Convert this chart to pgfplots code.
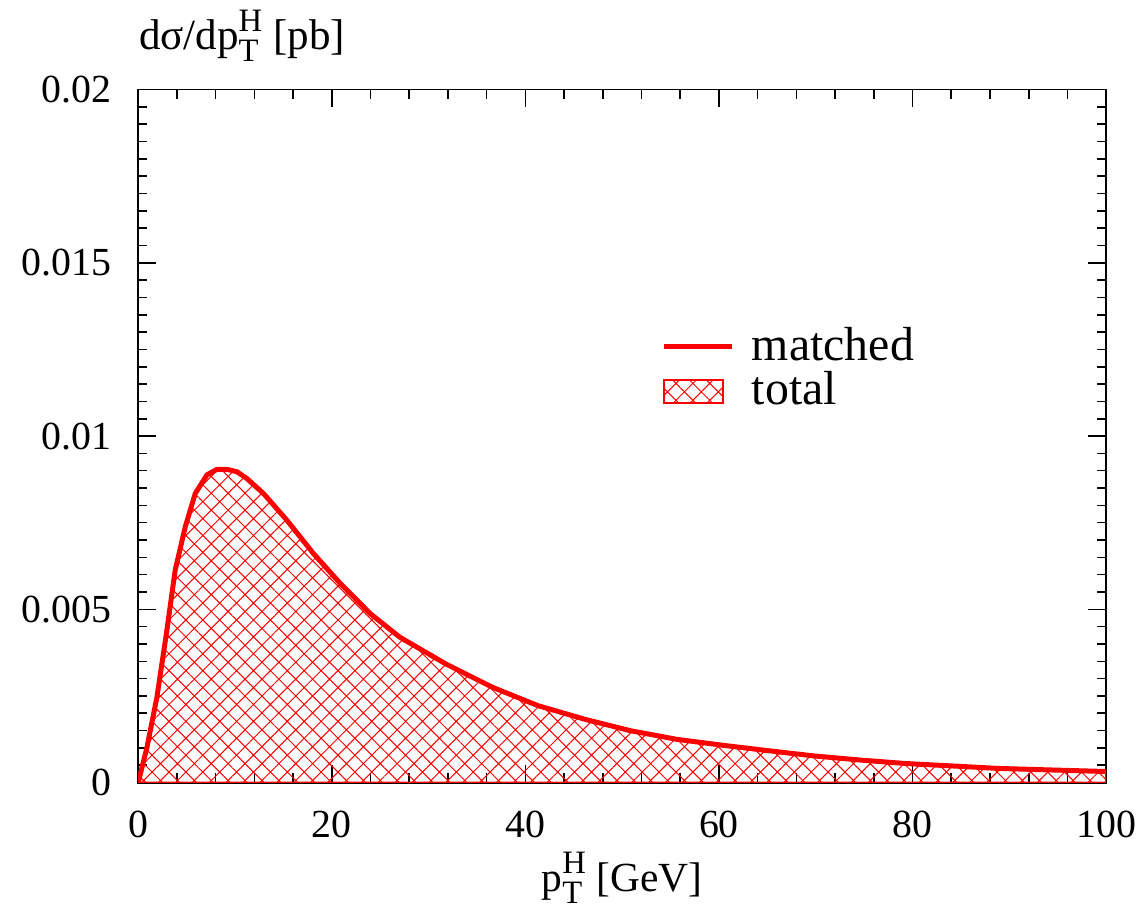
\documentclass[border={5.5pt 1pt 1pt 2.5pt}]{standalone}
\usepackage{fontspec}
\setmainfont{Liberation Serif}
\usepackage{pgfplots}
\pgfplotsset{compat=1.18}
\usetikzlibrary{patterns.meta}

% p_T^H with a raised H and a lowered T, as in the original plot
\newcommand\pTH{p\makebox[0pt][l]{\raisebox{4.6pt}{\fontsize{8.2}{8.2}\selectfont H}}%
  \raisebox{-3pt}{\fontsize{8.2}{8.2}\selectfont T}\kern1pt}

\pgfplotstableread{
x y
0 0
0.9 0.00101
1.93 0.00246
2.96 0.00439
3.82 0.00613
4.86 0.00738
5.89 0.00834
7.1 0.00888
8.13 0.00904
9.16 0.00904
10.2 0.00897
11.2 0.00878
12.95 0.00834
15.36 0.00757
18.1 0.00661
20.9 0.00574
24 0.00487
27 0.0042
31.8 0.00342
36.6 0.00275
41.3 0.00222
46.1 0.00183
50.8 0.0015
55.6 0.00125
60.3 0.00108
65.1 0.00092
69.8 0.00077
74.6 0.00065
79.3 0.00055
84.1 0.00048
88.8 0.00041
93.6 0.00037
100 0.00032
}\matched

\tikzset{xhatch/.style={pattern={Hatch[angle=45,distance=3pt,line width=0.25pt]}, pattern color=red}}

\begin{document}
\begin{tikzpicture}
\begin{axis}[
    scale only axis,
    width=243pt, height=174pt,
    xmin=0, xmax=100, ymin=0, ymax=0.02,
    xtick={0,20,...,100},
    ytick={0,0.005,0.01,0.015,0.02},
    minor x tick num=4,
    minor y tick num=9,
    tick align=inside,
    major tick length=4.5pt,
    minor tick length=2.3pt,
    every tick/.style={black, line width=0.4pt},
    axis line style={line width=0.5pt},
    scaled y ticks=false,
    xticklabel style={inner sep=0pt, yshift=-7pt},
    yticklabel style={/pgf/number format/fixed, /pgf/number format/precision=3,
        inner sep=0pt, xshift=-6.5pt},
    /pgf/number format/assume math mode=true,
    xlabel={\pTH\ [GeV]},
    xlabel style={at={(rel axis cs:0.5,0)}, anchor=base, yshift=-27.3pt, inner sep=0pt,
        font=\fontsize{10.4}{12}\selectfont},
    ylabel={dσ/d\pTH\ [pb]},
    ylabel style={rotate=-90, at={(rel axis cs:0,1)}, anchor=base west, yshift=10pt,
        inner sep=0pt, font=\fontsize{10.8}{13}\selectfont},
    legend style={at={(rel axis cs:0.527,0.681)}, anchor=north west, draw=none, fill=none,
        font=\fontsize{12}{13}\selectfont, row sep=-2.7pt,
        /tikz/every odd column/.append style={column sep=2.5pt}},
    legend cell align=left,
]
\addplot[draw=red, line width=0.5pt, xhatch, forget plot] table {\matched} \closedcycle;
\addplot[red, line width=1.25pt] table {\matched};
\addlegendentry{matched}
\addlegendimage{legend image code/.code={
    \draw[red, line width=0.5pt, xhatch] (0pt,-2.9pt) rectangle (15pt,2.9pt);}}
\addlegendentry{total}
\end{axis}
\end{tikzpicture}
\end{document}
